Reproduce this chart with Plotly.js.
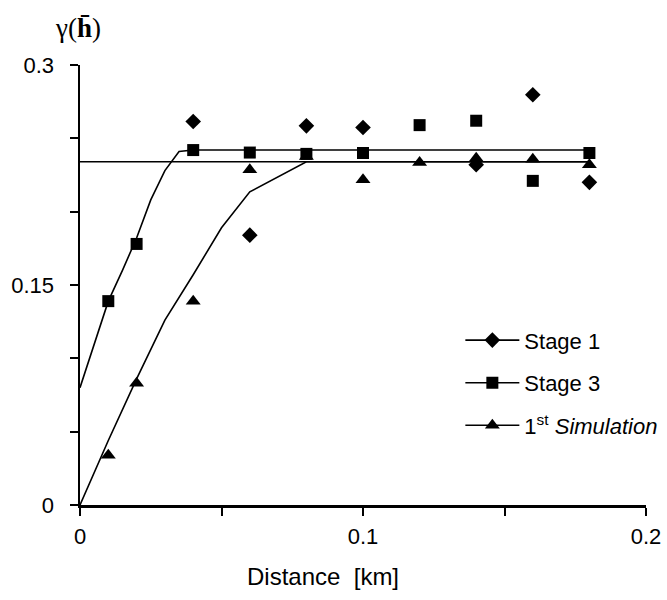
<!DOCTYPE html>
<html>
<head>
<meta charset="utf-8">
<script src="https://cdn.plot.ly/plotly-3.0.1.min.js"></script>
<style>html,body{margin:0;padding:0;background:#fff;}#chart{width:667px;height:600px;}</style>
</head>
<body>
<div id="chart"></div>
<script>
// Experimental variogram points
const lagStage1 = [0.04, 0.06, 0.08, 0.10, 0.14, 0.16, 0.18];
const gammaStage1 = [0.2615, 0.184, 0.2585, 0.2574, 0.232, 0.2797, 0.220];

const lagStage3 = [0.01, 0.02, 0.04, 0.06, 0.08, 0.10, 0.12, 0.14, 0.16, 0.18];
const gammaStage3 = [0.139, 0.178, 0.242, 0.2403, 0.2394, 0.240, 0.259, 0.262, 0.221, 0.240];

const lagSim = [0.01, 0.02, 0.04, 0.06, 0.08, 0.10, 0.12, 0.14, 0.16, 0.18];
const gammaSim = [0.034, 0.083, 0.139, 0.2285, 0.2376, 0.2217, 0.2335, 0.2365, 0.2358, 0.232];

// Fitted model curves
const modelStage1X = [0, 0.18];
const modelStage1Y = [0.234, 0.234];

const modelStage3X = [0, 0.005, 0.01, 0.015, 0.02, 0.025, 0.03, 0.035, 0.04, 0.18];
const modelStage3Y = [0.080, 0.110, 0.139, 0.160, 0.182, 0.208, 0.228, 0.241, 0.242, 0.242];

const modelSimX = [0, 0.01, 0.02, 0.03, 0.04, 0.05, 0.06, 0.08, 0.18];
const modelSimY = [0, 0.044, 0.086, 0.126, 0.157, 0.189, 0.2135, 0.234, 0.234];

// Tick labels
const xTickVals = [0, 0.1, 0.2];
const xTickText = ['0', '0.1', '0.2'];
const yTickVals = [0, 0.15, 0.3];
const yTickText = ['0', '0.15', '0.3'];

const seriesNames = ['Stage 1', 'Stage 3', '1<sup>st</sup> <i>Simulation</i>'];

// Model line traces: a leading empty point carries the legend marker colour,
// the markers on the model vertices themselves are transparent.
const withLead = arr => [null].concat(arr);
const legendColours = arr => ['#000'].concat(arr.map(() => 'rgba(0,0,0,0)'));

const sans = 'Liberation Sans, Arial, sans-serif';

const traces = [
  {x: withLead(modelStage1X), y: withLead(modelStage1Y), mode: 'lines+markers', name: seriesNames[0], legendgroup: 'g1',
   line: {color: '#000', width: 1.6}, marker: {symbol: 'diamond', size: 12, color: legendColours(modelStage1X), line: {width: 0}}},
  {x: withLead(modelStage3X), y: withLead(modelStage3Y), mode: 'lines+markers', name: seriesNames[1], legendgroup: 'g2',
   line: {color: '#000', width: 1.6}, marker: {symbol: 'square', size: 12, color: legendColours(modelStage3X), line: {width: 0}}},
  {x: withLead(modelSimX), y: withLead(modelSimY), mode: 'lines+markers', name: seriesNames[2], legendgroup: 'g3',
   line: {color: '#000', width: 1.6}, marker: {symbol: 'triangle-up', size: 13, color: legendColours(modelSimX), line: {width: 0}}},
  // data points
  {x: lagStage1, y: gammaStage1, mode: 'markers', showlegend: false, legendgroup: 'g1',
   marker: {symbol: 'diamond', color: '#000', size: 12}},
  {x: lagStage3, y: gammaStage3, mode: 'markers', showlegend: false, legendgroup: 'g2',
   marker: {symbol: 'square', color: '#000', size: 12}},
  {x: lagSim, y: gammaSim, mode: 'markers', showlegend: false, legendgroup: 'g3',
   marker: {symbol: 'triangle-up', color: '#000', size: 13}}
];

const minorTicks = {dtick: 0.05, tick0: 0, ticks: 'outside', ticklen: 8, tickwidth: 2, tickcolor: '#000', showgrid: false};

const axisCommon = {
  showline: true, linecolor: '#000', linewidth: 2.5, mirror: false,
  ticks: 'outside', ticklen: 8, tickwidth: 2, tickcolor: '#000',
  showgrid: false, zeroline: false, fixedrange: true, automargin: false,
  tickfont: {family: sans, size: 22, color: '#000'},
  minor: minorTicks
};

const layout = {
  width: 667, height: 600,
  margin: {l: 80, r: 21, t: 65, b: 95, autoexpand: false},
  paper_bgcolor: '#fff', plot_bgcolor: '#fff',
  font: {family: sans, color: '#000'},
  xaxis: Object.assign({}, axisCommon, {range: [0, 0.2], tickmode: 'array', tickvals: xTickVals, ticktext: xTickText, ticklabelstandoff: 2}),
  yaxis: Object.assign({}, axisCommon, {range: [0, 0.3], tickmode: 'array', tickvals: yTickVals, ticktext: yTickText, ticklabelstandoff: 11}),
  showlegend: true,
  legend: {
    x: 0.672, y: 0.422, xanchor: 'left', yanchor: 'top',
    bgcolor: 'rgba(0,0,0,0)', borderwidth: 0,
    font: {family: sans, size: 22, color: '#000'},
    itemwidth: 54, traceorder: 'grouped', tracegroupgap: 11
  },
  annotations: [
    {text: 'γ(<b>h̄</b>)', xref: 'paper', yref: 'paper', x: -0.004, y: 1.084,
     xanchor: 'center', yanchor: 'middle', showarrow: false,
     font: {family: 'Liberation Serif, DejaVu Serif, serif', size: 27, color: '#000'}},
    {text: 'Distance  [km]', xref: 'paper', yref: 'paper', x: 0.4293, y: -0.1636,
     xanchor: 'center', yanchor: 'middle', showarrow: false,
     font: {family: sans, size: 24, color: '#000'}}
  ]
};

Plotly.newPlot('chart', traces, layout, {displayModeBar: false, staticPlot: true});
</script>
</body>
</html>
